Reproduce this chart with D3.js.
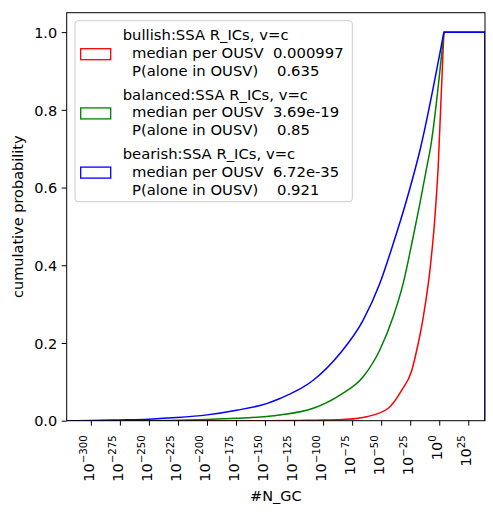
<!DOCTYPE html>
<html><head><meta charset="utf-8">
<script src="https://cdn.jsdelivr.net/npm/d3@7"></script>
<style>
body{margin:0;background:#fff;}
svg text{font-family:"DejaVu Sans",sans-serif;fill:#000;white-space:pre;}
</style></head><body>
<svg id="chart" width="493" height="520"></svg>
<script>
// ---- data (x values are log10 of #N_GC) ----
const xTickExps = [-300,-275,-250,-225,-200,-175,-150,-125,-100,-75,-50,-25,0,25];
const yTicks = [0,0.2,0.4,0.6,0.8,1.0];
const histRangeExp = [-320.8, 39.4];   // first and last bin edge (log10)

const bullishExp = [-150,-120,-100,-79.8,-62.5,-43.9,-32.4,-23.8,-19.5,-13.8,-8,-3.7,-0.9,4];
const bullishCum = [0,0.0008,0.0016,0.0036,0.0103,0.032,0.078,0.128,0.18,0.266,0.388,0.525,0.654,1.0];

const balancedExp = [-250,-225,-200,-174.5,-148.7,-137.2,-108.5,-85.5,-65.5,-51.2,-39.6,-31,-22.4,-16.6,-10.9,-7.4,4];
const balancedCum = [0,0.001,0.003,0.006,0.011,0.0147,0.032,0.066,0.113,0.182,0.268,0.354,0.474,0.56,0.65,0.705,1.0];

const bearishExp = [-300,-275,-250,-226,-200,-174.5,-148.7,-137.2,-108.5,-85.5,-65.5,-51.2,-39.6,-28.1,-16.6,4];
const bearishCum = [0.0005,0.002,0.004,0.008,0.015,0.027,0.044,0.057,0.104,0.173,0.259,0.353,0.456,0.568,0.696,1.0];

const seriesColors = ["#ff0000","#008000","#0000ff"];
const legendTexts = [
  ["bullish:SSA R_ICs, v=c","  median per OUSV  0.000997","  P(alone in OUSV)    0.635"],
  ["balanced:SSA R_ICs, v=c","  median per OUSV  3.69e-19","  P(alone in OUSV)    0.85"],
  ["bearish:SSA R_ICs, v=c","  median per OUSV  6.72e-35","  P(alone in OUSV)    0.921"]
];
const xLabel = "#N_GC";
const yLabel = "cumulative probability";

// ---- layout ----
const L = 66.7, R = 485, T = 12.7, B = 420.7;
const FS = 14.5;
const svg = d3.select("#chart");

const x = d3.scaleLog().domain([Math.pow(10,histRangeExp[0]), Math.pow(10,histRangeExp[1])]).range([L,R]);
const y = d3.scaleLinear().domain([0,1.05]).range([B,T]);

svg.append("defs").append("clipPath").attr("id","clip")
  .append("rect").attr("x",L).attr("y",T).attr("width",R-L).attr("height",B-T);

// ---- series ----
const series = [
  {e:bullishExp, c:bullishCum},
  {e:balancedExp, c:balancedCum},
  {e:bearishExp, c:bearishCum}
];
const px = p=>x(Math.pow(10,p[0])), py = p=>y(p[1]);
const curve = d3.line().x(px).y(py).curve(d3.curveMonotoneX);
const straight = d3.line().x(px).y(py);
series.forEach((s,i)=>{
  const rise = [[histRangeExp[0],0]];
  s.e.forEach((e,j)=>rise.push([e,s.c[j]]));
  const last = s.c[s.c.length-1];
  const flat = [[s.e[s.e.length-1], last],[histRangeExp[1], last],[histRangeExp[1],0]];
  const d = curve(rise) + straight(flat).replace(/^M/,"L");
  svg.append("path").attr("clip-path","url(#clip)")
    .attr("d", d).attr("fill","none")
    .attr("stroke", seriesColors[i]).attr("stroke-width",1.5)
    .attr("stroke-linejoin","round");
});

// ---- axes ----
const gx = svg.append("g").attr("transform",`translate(0,${B})`)
  .call(d3.axisBottom(x).tickValues(xTickExps.map(e=>Math.pow(10,e))).tickSize(5).tickFormat(""));
gx.select(".domain").remove();
gx.selectAll(".tick line").attr("stroke","#000").attr("stroke-width",1);
gx.selectAll(".tick").each(function(d,i){
  const e = xTickExps[i];
  const t = d3.select(this).append("text")
    .attr("transform","translate(2.5,14.5) rotate(-90)")
    .attr("text-anchor","end").attr("font-size",FS);
  t.append("tspan").text("10");
  t.append("tspan").attr("font-size",10.2).attr("dy",-6.5).text(e<0 ? "\u2212"+(-e) : String(e));
});

const gy = svg.append("g").attr("transform",`translate(${L},0)`)
  .call(d3.axisLeft(y).tickValues(yTicks).tickSize(5).tickFormat(d3.format(".1f")));
gy.select(".domain").remove();
gy.selectAll(".tick line").attr("stroke","#000").attr("stroke-width",1);
gy.selectAll(".tick text").attr("font-size",FS).attr("font-family","DejaVu Sans").attr("fill","#000")
  .attr("x",-9.5).attr("dy","0.36em");

// spines
svg.append("rect").attr("x",L).attr("y",T).attr("width",R-L).attr("height",B-T)
  .attr("fill","none").attr("stroke","#000").attr("stroke-width",1);

// axis labels
svg.append("text").attr("x",(L+R)/2).attr("y",500.5).attr("text-anchor","middle")
  .attr("font-size",FS).text(xLabel);
svg.append("text").attr("transform",`translate(23.3,${(T+B)/2}) rotate(-90)`)
  .attr("text-anchor","middle").attr("font-size",FS).text(yLabel);

// ---- legend ----
const lg = svg.append("g");
lg.append("rect").attr("x",75).attr("y",20.7).attr("width",277.3).attr("height",181)
  .attr("rx",3).attr("fill","#fff").attr("fill-opacity",0.8)
  .attr("stroke","#cccccc").attr("stroke-width",1);
const baseY = 40.3, lineH = 17.9, groupH = 59.2;
legendTexts.forEach((lines,i)=>{
  const g0 = baseY + i*groupH;
  lines.forEach((s,j)=>{
    lg.append("text").attr("x",122.7).attr("y",g0 + j*lineH)
      .attr("font-size",14.8).text(s);
  });
  lg.append("rect").attr("x",80.7).attr("y",g0 + lineH - 9.5).attr("width",30).attr("height",11)
    .attr("fill","none").attr("stroke",seriesColors[i]).attr("stroke-width",1.3);
});
</script>
</body></html>
